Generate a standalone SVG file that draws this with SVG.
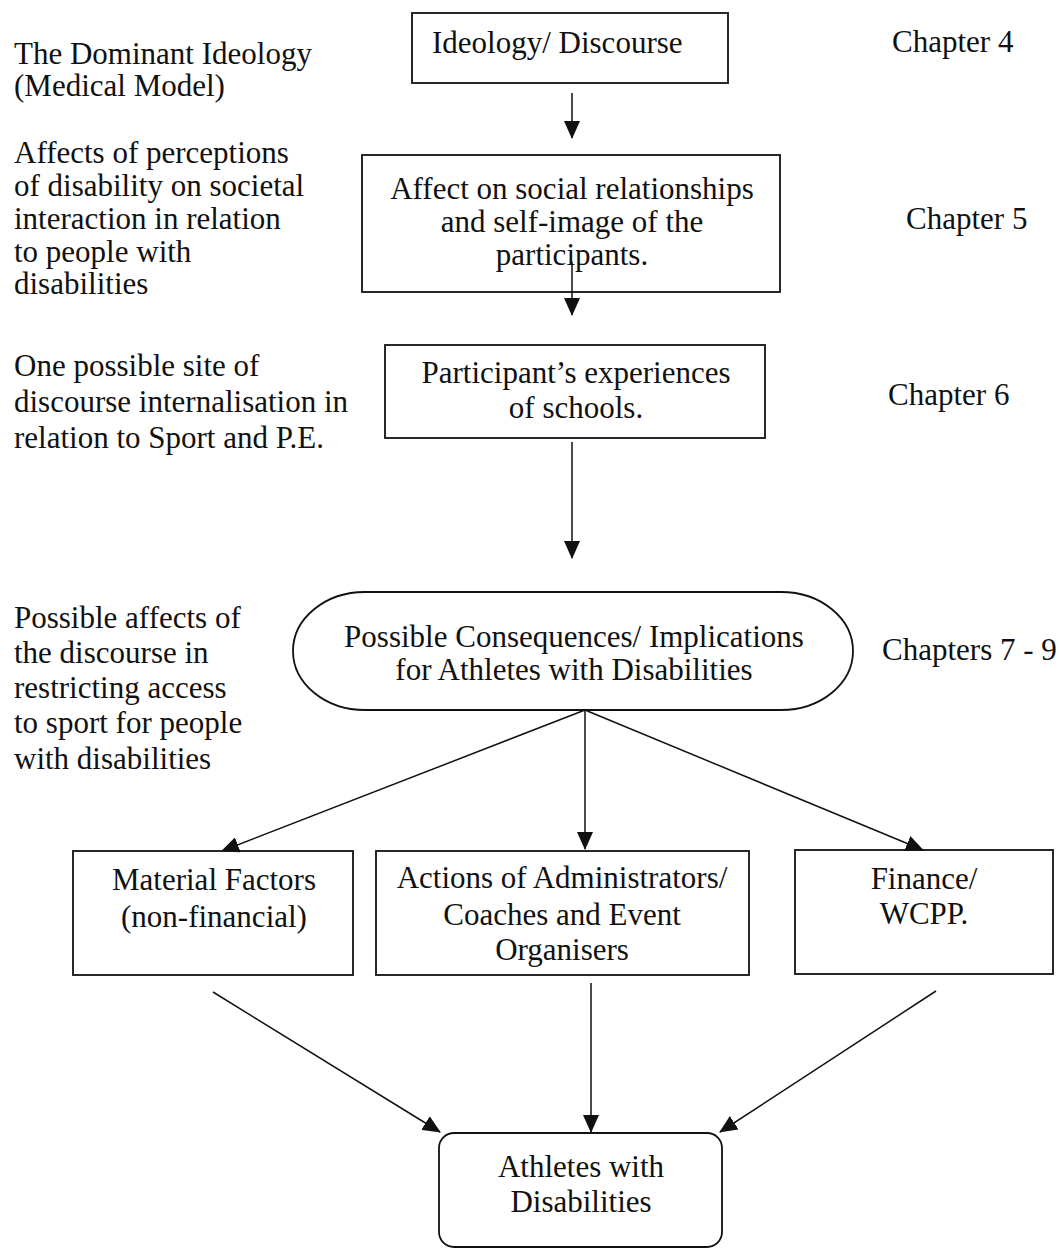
<svg xmlns="http://www.w3.org/2000/svg" width="1059" height="1251" viewBox="0 0 1059 1251">
<defs>
<style>
text{font-family:"Liberation Serif","Times New Roman",serif;font-size:31px;fill:#111}
.c{text-anchor:middle}
.box{fill:none;stroke:#111;stroke-width:1.8}
.ln{fill:none;stroke:#111;stroke-width:1.5}
</style>
<marker id="ah" viewBox="0 0 18 16" refX="17" refY="8" markerWidth="18" markerHeight="16" markerUnits="userSpaceOnUse" orient="auto">
<path d="M0,0 L18,8 L0,16 Z" fill="#111"/>
</marker>
</defs>
<rect width="1059" height="1251" fill="#fff"/>

<g id="side-labels">
<text x="14" y="64">The Dominant Ideology</text>
<text x="14" y="96">(Medical Model)</text>
<text x="14" y="163">Affects of perceptions</text>
<text x="14" y="196">of disability on societal</text>
<text x="14" y="229">interaction in relation</text>
<text x="14" y="262">to people with</text>
<text x="14" y="294">disabilities</text>
<text x="14" y="376">One possible site of</text>
<text x="14" y="412">discourse internalisation in</text>
<text x="14" y="448">relation to Sport and P.E.</text>
<text x="14" y="628">Possible affects of</text>
<text x="14" y="663">the discourse in</text>
<text x="14" y="698">restricting access</text>
<text x="14" y="733">to sport for people</text>
<text x="14" y="769">with disabilities</text>
</g>

<g id="chapter-labels">
<text x="892" y="52">Chapter 4</text>
<text x="906" y="229">Chapter 5</text>
<text x="888" y="405">Chapter 6</text>
<text x="882" y="660">Chapters 7 - 9</text>
</g>

<g id="n-ideology">
<rect class="box" x="412" y="13" width="316" height="70"/>
<text x="432" y="53">Ideology/ Discourse</text>
</g>

<g id="n-social">
<rect class="box" x="362" y="155" width="418" height="137"/>
<text class="c"><tspan x="572" y="199">Affect on social relationships</tspan><tspan x="572" y="232">and self-image of the</tspan><tspan x="572" y="265">participants.</tspan></text>
</g>

<g id="n-schools">
<rect class="box" x="385" y="345" width="380" height="93"/>
<text class="c"><tspan x="576" y="383">Participant’s experiences</tspan><tspan x="576" y="418">of schools.</tspan></text>
</g>

<g id="n-consequences">
<rect class="box" x="293" y="592" width="560" height="118" rx="72" ry="59"/>
<text class="c"><tspan x="574" y="647">Possible Consequences/ Implications</tspan><tspan x="574" y="680">for Athletes with Disabilities</tspan></text>
</g>

<g id="n-material">
<rect class="box" x="73" y="851" width="280" height="124"/>
<text class="c"><tspan x="214" y="890">Material Factors</tspan><tspan x="214" y="927">(non-financial)</tspan></text>
</g>

<g id="n-actions">
<rect class="box" x="376" y="851" width="373" height="124"/>
<text class="c"><tspan x="562" y="888">Actions of Administrators/</tspan><tspan x="562" y="925">Coaches and Event</tspan><tspan x="562" y="960">Organisers</tspan></text>
</g>

<g id="n-finance">
<rect class="box" x="795" y="850" width="258" height="124"/>
<text class="c"><tspan x="924" y="889">Finance/</tspan><tspan x="924" y="924">WCPP.</tspan></text>
</g>

<g id="n-athletes">
<rect class="box" x="439" y="1133" width="283" height="114" rx="15" ry="15"/>
<text class="c"><tspan x="581" y="1177">Athletes with</tspan><tspan x="581" y="1212">Disabilities</tspan></text>
</g>

<g id="connectors">
<line class="ln" x1="572" y1="93" x2="572" y2="138" marker-end="url(#ah)"/>
<line class="ln" x1="572" y1="262" x2="572" y2="315" marker-end="url(#ah)"/>
<line class="ln" x1="572" y1="442" x2="572" y2="558" marker-end="url(#ah)"/>
<line class="ln" x1="585" y1="710" x2="222" y2="851" marker-end="url(#ah)"/>
<line class="ln" x1="585" y1="710" x2="585" y2="849" marker-end="url(#ah)"/>
<line class="ln" x1="585" y1="710" x2="923" y2="850" marker-end="url(#ah)"/>
<line class="ln" x1="213" y1="992" x2="440" y2="1132" marker-end="url(#ah)"/>
<line class="ln" x1="591" y1="983" x2="591" y2="1132" marker-end="url(#ah)"/>
<line class="ln" x1="936" y1="991" x2="720" y2="1132" marker-end="url(#ah)"/>
</g>
</svg>
